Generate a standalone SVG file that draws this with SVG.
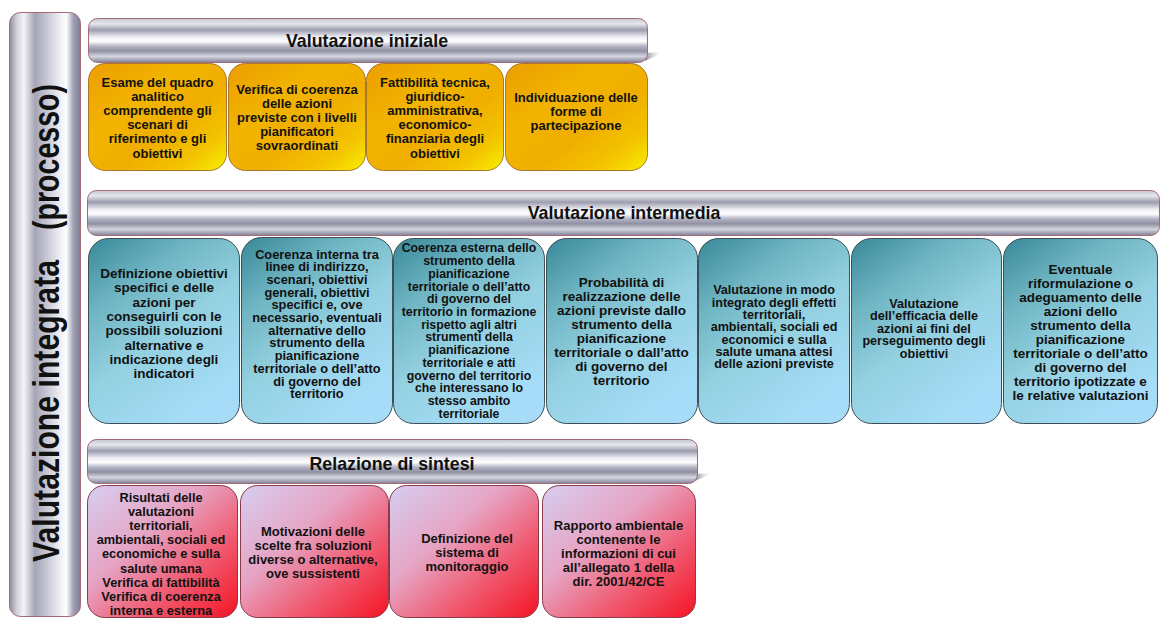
<svg xmlns="http://www.w3.org/2000/svg" width="1161" height="618" viewBox="0 0 1161 618">
  <defs>
    <!-- metallic cylinder look for header bars -->
    <linearGradient id="barH" x1="0" y1="0" x2="0" y2="1">
      <stop offset="0" stop-color="#c6c6d0"/>
      <stop offset="0.12" stop-color="#e6e6ee"/>
      <stop offset="0.26" stop-color="#9c9cae"/>
      <stop offset="0.42" stop-color="#eeeef4"/>
      <stop offset="0.52" stop-color="#ffffff"/>
      <stop offset="0.63" stop-color="#b4b4c4"/>
      <stop offset="0.74" stop-color="#9090a4"/>
      <stop offset="0.86" stop-color="#d6d6e0"/>
      <stop offset="1" stop-color="#808096"/>
    </linearGradient>
    <!-- same look, turned sideways for the vertical bar -->
    <linearGradient id="barV" x1="0" y1="0" x2="1" y2="0">
      <stop offset="0" stop-color="#8c8c9e"/>
      <stop offset="0.1" stop-color="#d0d0da"/>
      <stop offset="0.2" stop-color="#f4f4f8"/>
      <stop offset="0.36" stop-color="#a4a4b6"/>
      <stop offset="0.52" stop-color="#c6c6d2"/>
      <stop offset="0.7" stop-color="#ececf2"/>
      <stop offset="0.8" stop-color="#ffffff"/>
      <stop offset="0.9" stop-color="#a0a0b4"/>
      <stop offset="1" stop-color="#7e7e92"/>
    </linearGradient>
    <linearGradient id="sliver" x1="0" y1="0" x2="1" y2="0">
      <stop offset="0" stop-color="#8a8a96"/>
      <stop offset="1" stop-color="#ffffff" stop-opacity="0"/>
    </linearGradient>
    <linearGradient id="gold" x1="0" y1="0" x2="1" y2="1">
      <stop offset="0" stop-color="#eb9e00"/>
      <stop offset="0.35" stop-color="#f2b400"/>
      <stop offset="0.6" stop-color="#f0ae00"/>
      <stop offset="0.82" stop-color="#f3c400"/>
      <stop offset="1" stop-color="#f8f000"/>
    </linearGradient>
    <linearGradient id="teal" x1="0" y1="0" x2="0.6" y2="1">
      <stop offset="0" stop-color="#388898"/>
      <stop offset="0.3" stop-color="#6eb4c2"/>
      <stop offset="0.6" stop-color="#93d0e0"/>
      <stop offset="1" stop-color="#a6dcf8"/>
    </linearGradient>
    <linearGradient id="rose" x1="0" y1="0" x2="1" y2="1">
      <stop offset="0" stop-color="#d6cef0"/>
      <stop offset="0.38" stop-color="#e6a4c4"/>
      <stop offset="0.68" stop-color="#f05a70"/>
      <stop offset="1" stop-color="#f41424"/>
    </linearGradient>
  </defs>
  <style>
    .bar { fill: url(#barH); stroke: #a46a78; stroke-width: 1; }
    .vbar { fill: url(#barV); stroke: #a46a78; stroke-width: 1; }
    .gold { fill: url(#gold); stroke: #a7782c; stroke-width: 1; }
    .teal { fill: url(#teal); stroke: #3d4f55; stroke-width: 1; }
    .rose { fill: url(#rose); stroke: #8b3a4a; stroke-width: 1; }
    text { font-family: "Liberation Sans", Arial, sans-serif; font-weight: bold; fill: #111; text-anchor: middle; }
    .hd { font-size: 17.8px; }
    .bx { font-size: 13px; }
    .side { font-size: 37px; text-anchor: start; }
  </style>

  <rect width="1161" height="618" fill="#ffffff"/>

  <!-- vertical process bar -->
  <g id="processo">
    <rect class="vbar" x="9.5" y="12.5" width="71" height="604" rx="11"/>
    <text class="side" transform="translate(59,562) rotate(-90)" textLength="302" lengthAdjust="spacingAndGlyphs">Valutazione integrata</text>
    <text class="side" transform="translate(59,230) rotate(-90)" textLength="146" lengthAdjust="spacingAndGlyphs">(processo)</text>
  </g>

  <!-- stage 1 -->
  <g id="valutazione-iniziale">
    <polygon points="645,53 664,52 645,61" fill="url(#sliver)"/>
    <rect class="bar" x="88.5" y="18.5" width="559" height="44" rx="9"/>
    <text class="hd" x="367" y="47">Valutazione iniziale</text>
  </g>
  <g id="ini-1">
    <rect class="gold" x="88.5" y="63.5" width="138" height="107" rx="17"/>
    <text class="bx" x="157.5" y="86.5"><tspan x="157.5">Esame del quadro</tspan><tspan x="157.5" dy="14.2">analitico</tspan><tspan x="157.5" dy="14.2">comprendente gli</tspan><tspan x="157.5" dy="14.2">scenari di</tspan><tspan x="157.5" dy="14.2">riferimento e gli</tspan><tspan x="157.5" dy="14.2">obiettivi</tspan></text>
  </g>
  <g id="ini-2">
    <rect class="gold" x="228.5" y="63.5" width="137" height="107" rx="17"/>
    <text class="bx" x="297" y="93.5"><tspan x="297">Verifica di coerenza</tspan><tspan x="297" dy="14.2">delle azioni</tspan><tspan x="297" dy="14.2">previste con i livelli</tspan><tspan x="297" dy="14.2">pianificatori</tspan><tspan x="297" dy="14.2">sovraordinati</tspan></text>
  </g>
  <g id="ini-3">
    <rect class="gold" x="366.5" y="63.5" width="137" height="107" rx="17"/>
    <text class="bx" x="435" y="86.5"><tspan x="435">Fattibilità tecnica,</tspan><tspan x="435" dy="14.2">giuridico-</tspan><tspan x="435" dy="14.2">amministrativa,</tspan><tspan x="435" dy="14.2">economico-</tspan><tspan x="435" dy="14.2">finanziaria degli</tspan><tspan x="435" dy="14.2">obiettivi</tspan></text>
  </g>
  <g id="ini-4">
    <rect class="gold" x="505.5" y="63.5" width="142" height="107" rx="17"/>
    <text class="bx" x="576" y="101.5"><tspan x="576">Individuazione delle</tspan><tspan x="576" dy="14.2">forme di</tspan><tspan x="576" dy="14.2">partecipazione</tspan></text>
  </g>

  <!-- stage 2 -->
  <g id="valutazione-intermedia">
    <rect class="bar" x="87.5" y="190.5" width="1072" height="45" rx="9"/>
    <text class="hd" x="624" y="219">Valutazione intermedia</text>
  </g>
  <g id="int-1">
    <rect class="teal" x="88.5" y="238.5" width="151" height="185" rx="20"/>
    <text class="bx" style="font-size:13.5px" x="164" y="278"><tspan x="164">Definizione obiettivi</tspan><tspan x="164" dy="14.3">specifici e delle</tspan><tspan x="164" dy="14.3">azioni per</tspan><tspan x="164" dy="14.3">conseguirli con le</tspan><tspan x="164" dy="14.3">possibili soluzioni</tspan><tspan x="164" dy="14.3">alternative e</tspan><tspan x="164" dy="14.3">indicazione degli</tspan><tspan x="164" dy="14.3">indicatori</tspan></text>
  </g>
  <g id="int-2">
    <rect class="teal" x="241.5" y="237.5" width="151" height="186" rx="20"/>
    <text class="bx" style="font-size:12.8px" x="317" y="258.5"><tspan x="317">Coerenza interna tra</tspan><tspan x="317" dy="12.7">linee di indirizzo,</tspan><tspan x="317" dy="12.7">scenari, obiettivi</tspan><tspan x="317" dy="12.7">generali, obiettivi</tspan><tspan x="317" dy="12.7">specifici e, ove</tspan><tspan x="317" dy="12.7">necessario, eventuali</tspan><tspan x="317" dy="12.7">alternative dello</tspan><tspan x="317" dy="12.7">strumento della</tspan><tspan x="317" dy="12.7">pianificazione</tspan><tspan x="317" dy="12.7">territoriale o dell’atto</tspan><tspan x="317" dy="12.7">di governo del</tspan><tspan x="317" dy="12.7">territorio</tspan></text>
  </g>
  <g id="int-3">
    <rect class="teal" x="393.5" y="238.5" width="151" height="185" rx="20"/>
    <text class="bx" style="font-size:12.3px" x="469" y="252.3"><tspan x="469">Coerenza esterna dello</tspan><tspan x="469" dy="12.74">strumento della</tspan><tspan x="469" dy="12.74">pianificazione</tspan><tspan x="469" dy="12.74">territoriale o dell’atto</tspan><tspan x="469" dy="12.74">di governo del</tspan><tspan x="469" dy="12.74">territorio in formazione</tspan><tspan x="469" dy="12.74">rispetto agli altri</tspan><tspan x="469" dy="12.74">strumenti della</tspan><tspan x="469" dy="12.74">pianificazione</tspan><tspan x="469" dy="12.74">territoriale e atti</tspan><tspan x="469" dy="12.74">governo del territorio</tspan><tspan x="469" dy="12.74">che interessano lo</tspan><tspan x="469" dy="12.74">stesso ambito</tspan><tspan x="469" dy="12.74">territoriale</tspan></text>
  </g>
  <g id="int-4">
    <rect class="teal" x="546.5" y="238.5" width="151" height="185" rx="20"/>
    <text class="bx" style="font-size:13.5px" x="621.5" y="286.5"><tspan x="621.5">Probabilità di</tspan><tspan x="621.5" dy="14.05">realizzazione delle</tspan><tspan x="621.5" dy="14.05">azioni previste dallo</tspan><tspan x="621.5" dy="14.05">strumento della</tspan><tspan x="621.5" dy="14.05">pianificazione</tspan><tspan x="621.5" dy="14.05">territoriale o dall’atto</tspan><tspan x="621.5" dy="14.05">di governo del</tspan><tspan x="621.5" dy="14.05">territorio</tspan></text>
  </g>
  <g id="int-5">
    <rect class="teal" x="698.5" y="238.5" width="151" height="185" rx="20"/>
    <text class="bx" style="font-size:12.6px" x="774" y="294.4"><tspan x="774">Valutazione in modo</tspan><tspan x="774" dy="12.3">integrato degli effetti</tspan><tspan x="774" dy="12.3">territoriali,</tspan><tspan x="774" dy="12.3">ambientali, sociali ed</tspan><tspan x="774" dy="12.3">economici e sulla</tspan><tspan x="774" dy="12.3">salute umana attesi</tspan><tspan x="774" dy="12.3">delle azioni previste</tspan></text>
  </g>
  <g id="int-6">
    <rect class="teal" x="851.5" y="238.5" width="150" height="185" rx="20"/>
    <text class="bx" style="font-size:12.6px" x="924" y="307.7"><tspan x="924">Valutazione</tspan><tspan x="924" dy="12.5">dell’efficacia delle</tspan><tspan x="924" dy="12.5">azioni ai fini del</tspan><tspan x="924" dy="12.5">perseguimento degli</tspan><tspan x="924" dy="12.5">obiettivi</tspan></text>
  </g>
  <g id="int-7">
    <rect class="teal" x="1003.5" y="238.5" width="154" height="185" rx="20"/>
    <text class="bx" style="font-size:13.5px" x="1080.5" y="273.8"><tspan x="1080.5">Eventuale</tspan><tspan x="1080.5" dy="14.07">riformulazione o</tspan><tspan x="1080.5" dy="14.07">adeguamento delle</tspan><tspan x="1080.5" dy="14.07">azioni dello</tspan><tspan x="1080.5" dy="14.07">strumento della</tspan><tspan x="1080.5" dy="14.07">pianificazione</tspan><tspan x="1080.5" dy="14.07">territoriale o dell’atto</tspan><tspan x="1080.5" dy="14.07">di governo del</tspan><tspan x="1080.5" dy="14.07">territorio ipotizzate e</tspan><tspan x="1080.5" dy="14.07">le relative valutazioni</tspan></text>
  </g>

  <!-- stage 3 -->
  <g id="relazione-di-sintesi">
    <polygon points="695,474 713,473 695,481" fill="url(#sliver)"/>
    <rect class="bar" x="87.5" y="439.5" width="610" height="44" rx="9"/>
    <text class="hd" x="392" y="470">Relazione di sintesi</text>
  </g>
  <g id="sin-1">
    <rect class="rose" x="87.5" y="485.5" width="150" height="132" rx="17"/>
    <text class="bx" style="font-size:12.8px" x="161" y="501.5"><tspan x="161">Risultati delle</tspan><tspan x="161" dy="14.2">valutazioni</tspan><tspan x="161" dy="14.2">territoriali,</tspan><tspan x="161" dy="14.2">ambientali, sociali ed</tspan><tspan x="161" dy="14.2">economiche e sulla</tspan><tspan x="161" dy="14.2">salute umana</tspan><tspan x="161" dy="14.2">Verifica di fattibilità</tspan><tspan x="161" dy="14.2">Verifica di coerenza</tspan><tspan x="161" dy="14.2">interna e esterna</tspan></text>
  </g>
  <g id="sin-2">
    <rect class="rose" x="240.5" y="485.5" width="148" height="132" rx="17"/>
    <text class="bx" x="313" y="536"><tspan x="313">Motivazioni delle</tspan><tspan x="313" dy="13.9">scelte fra soluzioni</tspan><tspan x="313" dy="13.9">diverse o alternative,</tspan><tspan x="313" dy="13.9">ove sussistenti</tspan></text>
  </g>
  <g id="sin-3">
    <rect class="rose" x="389.5" y="485.5" width="149" height="132" rx="17"/>
    <text class="bx" x="467" y="542.8"><tspan x="467">Definizione del</tspan><tspan x="467" dy="14.2">sistema di</tspan><tspan x="467" dy="14.2">monitoraggio</tspan></text>
  </g>
  <g id="sin-4">
    <rect class="rose" x="542.5" y="485.5" width="153" height="132" rx="17"/>
    <text class="bx" x="618.5" y="529.5"><tspan x="618.5">Rapporto ambientale</tspan><tspan x="618.5" dy="14.2">contenente le</tspan><tspan x="618.5" dy="14.2">informazioni di cui</tspan><tspan x="618.5" dy="14.2">all’allegato 1 della</tspan><tspan x="618.5" dy="14.2">dir. 2001/42/CE</tspan></text>
  </g>
</svg>
